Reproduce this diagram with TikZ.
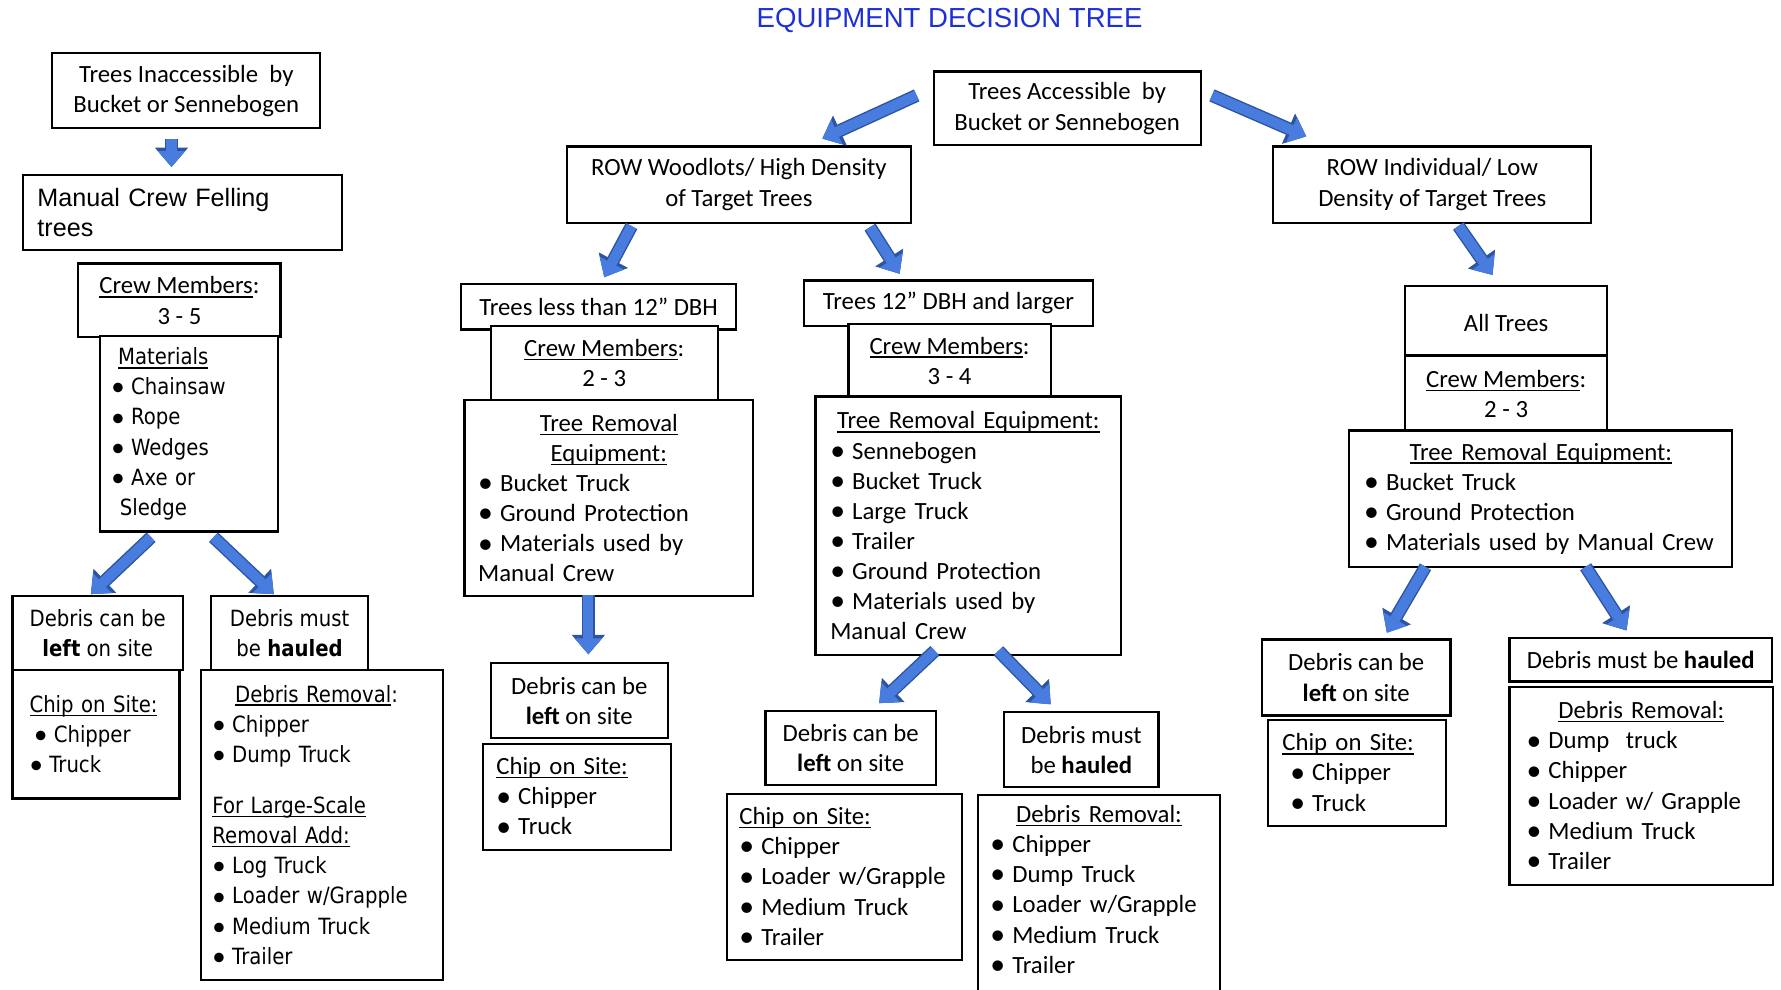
\documentclass[tikz,border=0pt]{standalone}
\usepackage{fontspec}
\setmainfont{Carlito}
\newfontfamily\arialfont{Liberation Sans}
\newfontfamily\tahomafont[FakeStretch=0.88]{DejaVu Sans}
\usetikzlibrary{arrows.meta,calc}

\definecolor{arrowfill}{RGB}{72,124,222}
\definecolor{arrowline}{RGB}{44,84,160}
\definecolor{titleblue}{RGB}{28,48,214}

\newcommand{\bxfont}{\fontsize{12.4}{15.1}\selectfont}
\newcommand{\tahfont}{\tahomafont\fontsize{11.2}{15.1}\selectfont}
\newcommand{\felfont}{\arialfont\fontsize{12.6}{15.3}\selectfont}
\newcommand{\titlefont}{\arialfont\fontsize{13.8}{16}\selectfont}
\newsavebox{\ulbox}
\newcommand{\uln}[1]{\leavevmode\sbox{\ulbox}{#1}\rlap{\rule[-1.9pt]{\wd\ulbox}{0.7pt}}\usebox{\ulbox}}
\newcommand{\bul}{\leavevmode\makebox[0.55em][l]{\raisebox{-0.05em}{\scalebox{1.2}{\normalfont\textbullet}}}\ }

\begin{document}
\begin{tikzpicture}[x=0.2mm,y=-0.2mm,
  box/.style={draw,line width=1.1pt,fill=white,inner xsep=2.4mm,inner ysep=0pt,font=\bxfont,align=center},
  tbox/.style={box,font=\tahfont},
  list/.style={align=left},
  bluearrow/.style={draw=arrowfill,line width=1.8mm,-{Triangle[width=4.8mm,length=2.8mm,line width=0.4pt]},
    preaction={draw=arrowline,line width=2.3mm,-{Triangle[width=5.8mm,length=3.4mm,line width=0.4pt]}}}]

  \useasboundingbox (0,0) rectangle (1568,871);
  \clip (0,0) rectangle (1568,871);

  \node[font=\titlefont,text=titleblue] (title) at (836,18) {EQUIPMENT DECISION TREE};

  \node[box,minimum width=47.2mm,minimum height=13.2mm] (inacc) at (164,80) {Trees Inaccessible\ \ by\\Bucket or Sennebogen};
  \node[box,font=\felfont,list,inner xsep=2.6mm,text width=51mm,minimum height=13.2mm] (felling) at (160.5,187) {Manual Crew Felling\\trees};
  \node[box,minimum width=35.6mm,minimum height=13mm] (crewA) at (158,264.5) {\uln{Crew Members}:\\3 - 5};
  \node[tbox,list,inner xsep=2mm,text width=27.4mm,minimum height=34.4mm] (matA) at (166.5,382) {\hspace*{1.2mm}\uln{Materials}\\\bul Chainsaw\\\bul Rope\\\bul Wedges\\\bul Axe or\\\hspace*{1.5mm}Sledge};
  \node[tbox,minimum width=30mm,minimum height=13mm] (leftA) at (86,557.5) {Debris can be\\\textbf{left} on site};
  \node[tbox,minimum width=27.6mm,minimum height=13mm] (haulA) at (255,557.5) {Debris must\\be \textbf{hauled}};
  \node[tbox,list,inner xsep=3mm,text width=23.4mm,minimum height=22.6mm] (chipA) at (84.5,646.5) {\uln{Chip on Site:}\\\hspace*{0.8mm}\bul Chipper\\\bul Truck};
  \node[tbox,list,inner xsep=2mm,text width=38.6mm,minimum height=54.6mm] (remA) at (283.5,726.5) {\hspace*{4mm}\uln{Debris Removal}:\\\bul Chipper\\\bul Dump Truck\\[3.7mm]\uln{For Large-Scale}\\\uln{Removal Add:}\\\bul Log Truck\\\bul Loader w/Grapple\\\bul Medium Truck\\\bul Trailer};

  \node[box,minimum width=47mm,minimum height=13mm] (acc) at (939.5,95.5) {Trees Accessible\ \ by\\Bucket or Sennebogen};
  \node[box,minimum width=60.6mm,minimum height=13.4mm] (dense) at (650.5,162.5) {ROW Woodlots/ High Density\\of Target Trees};
  \node[box,minimum width=56mm,minimum height=13.4mm] (sparse) at (1261,162.5) {ROW Individual/ Low\\Density of Target Trees};

  \node[box,minimum width=48.4mm,minimum height=8mm] (small) at (527,270) {Trees less than 12” DBH};
  \node[box,minimum width=40mm,minimum height=13mm] (crewB) at (532,319.5) {\uln{Crew Members}:\\2 - 3};
  \node[box,list,text width=46mm,minimum height=34.6mm] (equipB) at (536,438.5) {\makebox[\linewidth]{\uln{Tree Removal}}\\\makebox[\linewidth]{\uln{Equipment:}}\\\bul Bucket Truck\\\bul Ground Protection\\\bul Materials used by\\Manual Crew};
  \node[box,minimum width=31.2mm,minimum height=13.2mm] (leftB) at (510,617) {Debris can be\\\textbf{left} on site};
  \node[box,list,text width=28.4mm,minimum height=18.6mm] (chipB) at (508,701.5) {\uln{Chip on Site:}\\\bul Chipper\\\bul Truck};

  \node[box,minimum width=50.8mm,minimum height=8mm] (large) at (835,267) {Trees 12” DBH and larger};
  \node[box,minimum width=35.6mm,minimum height=13mm] (crewC) at (836,317.5) {\uln{Crew Members}:\\3 - 4};
  \node[box,list,inner xsep=2.6mm,text width=48.6mm,minimum height=45.6mm] (equipC) at (852.5,463) {\makebox[\linewidth]{\uln{Tree Removal Equipment:}}\\\bul Sennebogen\\\bul Bucket Truck\\\bul Large Truck\\\bul Trailer\\\bul Ground Protection\\\bul Materials used by\\Manual Crew};
  \node[box,minimum width=30mm,minimum height=13mm] (leftC) at (749,658.5) {Debris can be\\\textbf{left} on site};
  \node[box,minimum width=27.2mm,minimum height=13.2mm] (haulC) at (952,660) {Debris must\\be \textbf{hauled}};
  \node[box,list,inner xsep=2.2mm,text width=37mm,minimum height=29.2mm] (chipC) at (743.5,772) {\uln{Chip on Site:}\\\bul Chipper\\\bul Loader w/Grapple\\\bul Medium Truck\\\bul Trailer};
  \node[box,list,anchor=north,inner xsep=2.2mm,inner ysep=1.8mm,text width=38.2mm] (remC) at (967.5,699) {\makebox[\linewidth]{\uln{Debris Removal:}}\\\bul Chipper\\\bul Dump Truck\\\bul Loader w/Grapple\\\bul Medium Truck\\\bul Trailer\rule[-9mm]{0pt}{0pt}};

  \node[box,minimum width=35.6mm,minimum height=12.8mm] (alltrees) at (1326,284) {All Trees};
  \node[box,minimum width=35.6mm,minimum height=13.6mm] (crewD) at (1326,347) {\uln{Crew Members}:\\2 - 3};
  \node[box,list,inner xsep=2.6mm,text width=62.2mm,minimum height=24mm] (equipD) at (1356.5,439) {\makebox[\linewidth]{\uln{Tree Removal Equipment:}}\\\bul Bucket Truck\\\bul Ground Protection\\\bul Materials used by Manual Crew};
  \node[box,minimum width=33.2mm,minimum height=13.4mm] (leftD) at (1194,596.5) {Debris can be\\\textbf{left} on site};
  \node[box,minimum width=46.2mm,minimum height=7.6mm] (haulD) at (1444.5,581) {Debris must be \textbf{hauled}};
  \node[box,list,inner xsep=2.6mm,text width=26.2mm,minimum height=18.6mm] (chipD) at (1194.5,680.5) {\uln{Chip on Site:}\\\hspace*{1.4mm}\bul Chipper\\\hspace*{1.4mm}\bul Truck};
  \node[box,list,inner xsep=3mm,text width=40.4mm,minimum height=34.8mm] (remD) at (1445,692) {\makebox[\linewidth]{\uln{Debris Removal:}}\\\bul Dump\ \ truck\\\bul Chipper\\\bul Loader w/ Grapple\\\bul Medium Truck\\\bul Trailer};

  \draw[bluearrow] ($(inacc.south)+(-13,8)$) -- ($(felling.north)+(-9.5,-6)$);
  \draw[bluearrow] ($(acc.west)+(-14,-11.5)$) -- ($(dense.north)+(73.5,-6)$);
  \draw[bluearrow] ($(acc.east)+(9,-11.5)$) -- ($(sparse.north)+(-111,-8)$);
  \draw[bluearrow] ($(dense.south)+(-94.5,2)$) -- ($(small.north)+(5,-5)$);
  \draw[bluearrow] ($(dense.south)+(115.5,3)$) -- ($(large.north)+(-43,-5)$);
  \draw[bluearrow] ($(sparse.south)+(23,2)$) -- ($(alltrees.north)+(-12,-9)$);
  \draw[bluearrow] ($(matA.south)+(-33.5,4)$) -- ($(leftA.north)+(-6,-1)$);
  \draw[bluearrow] ($(matA.south)+(21.5,4)$) -- ($(haulA.north)+(-14,-1)$);
  \draw[bluearrow] ($(equipB.south)+(-18,-2)$) -- ($(leftB.north)+(8,-7)$);
  \draw[bluearrow] ($(equipC.south)+(-29.5,-5)$) -- ($(leftC.north)+(25,-6)$);
  \draw[bluearrow] ($(equipC.south)+(26.5,-5)$) -- ($(haulC.north)+(-27,-6)$);
  \draw[bluearrow] ($(equipD.south)+(-101.5,-1)$) -- ($(leftD.north)+(27,-5)$);
  \draw[bluearrow] ($(equipD.south)+(39.5,-1)$) -- ($(haulD.north)+(-12.5,-6)$);

\end{tikzpicture}
\end{document}
